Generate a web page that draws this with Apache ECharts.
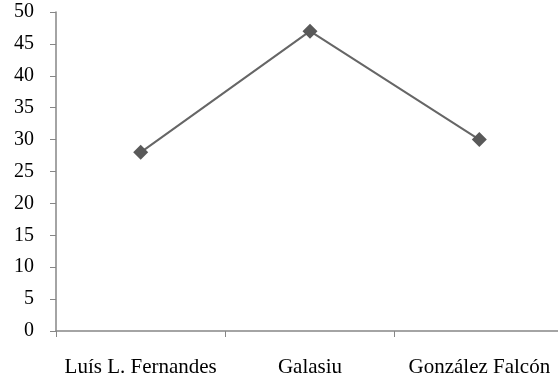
<!DOCTYPE html>
<html>
<head>
<meta charset="utf-8">
<script src="https://cdn.jsdelivr.net/npm/echarts@6/dist/echarts.min.js"></script>
<style>
  html, body { margin: 0; padding: 0; background: #fff; }
  #chart { width: 558px; height: 381px; }
</style>
</head>
<body>
<div id="chart"></div>
<script>
// Category names along the x axis
const categories = ['Luís L. Fernandes', 'Galasiu', 'González Falcón'];
// Plotted values
const values = [28, 47, 30];
// Y axis range and step
const yMin = 0;
const yMax = 50;
const yStep = 5;

const chart = echarts.init(document.getElementById('chart'));
const axisColor = '#868686';
const serif = '"Liberation Serif", "Times New Roman", serif';

chart.setOption({
  animation: false,
  textStyle: { fontFamily: serif },
  grid: { left: 56, top: 12, width: 508, height: 319, containLabel: false, outerBoundsMode: 'none' },
  xAxis: {
    type: 'category',
    data: categories,
    boundaryGap: true,
    axisLine: { lineStyle: { color: axisColor, width: 1.5 } },
    axisTick: { show: true, alignWithLabel: false, length: 6, lineStyle: { color: axisColor } },
    axisLabel: { margin: 26, interval: 0, fontFamily: serif, fontSize: 21, color: '#000' },
    splitLine: { show: false }
  },
  yAxis: {
    type: 'value',
    min: yMin,
    max: yMax,
    interval: yStep,
    axisLine: { show: true, lineStyle: { color: axisColor, width: 1.5 } },
    axisTick: { show: true, length: 6, lineStyle: { color: axisColor } },
    axisLabel: { margin: 22, fontFamily: serif, fontSize: 20, color: '#000' },
    splitLine: { show: false }
  },
  series: [{
    type: 'line',
    data: values,
    symbol: 'diamond',
    symbolSize: 15,
    lineStyle: { color: '#666666', width: 2 },
    itemStyle: { color: '#595959' }
  }]
});
</script>
</body>
</html>
